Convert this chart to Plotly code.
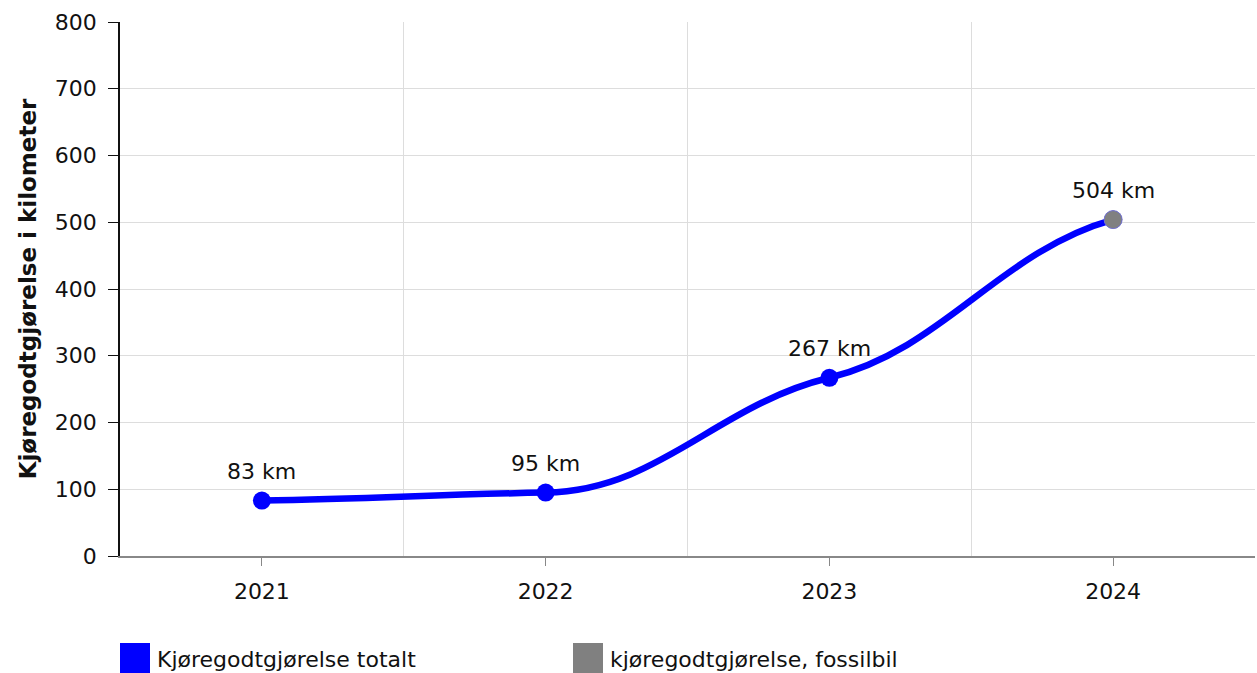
import plotly.graph_objects as go

years = ["2021", "2022", "2023", "2024"]
total_km = [83, 95, 267, 504]
fossil_years = ["2024"]
fossil_km = [504]
series_names = ["Kjøregodtgjørelse totalt", "kjøregodtgjørelse, fossilbil"]
y_ticks = [0, 100, 200, 300, 400, 500, 600, 700, 800]

xi = list(range(len(years)))
fx = [years.index(y) for y in fossil_years]

FONT = "DejaVu Sans, Verdana, sans-serif"
BLUE = "#0000ff"
GREY = "#808080"
TXT = "#111111"

W, H = 1257, 673
ML, MR, MT, MB = 120, 2, 22, 117
PW, PH = W - ML - MR, H - MT - MB


def px_to_paper_x(px):
    return (px - ML) / PW


def py_to_paper_y(py):
    return (H - MB - py) / PH


# smooth curve through the data points (cubic Bezier segments, flat-ish tangents)
def smooth_path(xs, ys, k=0.4):
    n = len(xs)
    sec = [(ys[i + 1] - ys[i]) / (xs[i + 1] - xs[i]) for i in range(n - 1)]
    tang = []
    for i in range(n):
        if i == 0:
            tang.append(0.5 * sec[0])
        elif i == n - 1:
            tang.append(0.5 * sec[-1])
        else:
            a, b = sec[i - 1], sec[i]
            if a * b <= 0:
                tang.append(0.0)
            else:
                s = 1 if a > 0 else -1
                tang.append(s * 0.5 * min(abs(a), abs(b)) + s * 0.1 * abs(a))
    d = f"M {xs[0]},{ys[0]}"
    for i in range(n - 1):
        h = xs[i + 1] - xs[i]
        c1x, c1y = xs[i] + k * h, ys[i] + k * h * tang[i]
        c2x, c2y = xs[i + 1] - k * h, ys[i + 1] - k * h * tang[i + 1]
        d += f" C {c1x},{c1y} {c2x},{c2y} {xs[i + 1]},{ys[i + 1]}"
    return d


fig = go.Figure()
line_shape = dict(type="path", xref="x", yref="y", path=smooth_path(xi, total_km),
                  line=dict(color=BLUE, width=6.5), fillcolor="rgba(0,0,0,0)")
try:
    fig.add_shape(**line_shape, layer="between")
except ValueError:
    fig.add_shape(**line_shape, layer="below")

fig.add_trace(go.Scatter(
    x=xi, y=total_km, mode="markers",
    marker=dict(color=BLUE, size=18),
    name=series_names[0], showlegend=False, cliponaxis=False,
))
fig.add_trace(go.Scatter(
    x=fx, y=fossil_km, mode="markers",
    marker=dict(color=GREY, size=18, line=dict(color="#7777cc", width=1)),
    name=series_names[1], showlegend=False, cliponaxis=False,
))
for x, v in zip(xi, total_km):
    fig.add_annotation(x=x, y=v, text=f"{v} km", showarrow=False, yshift=29,
                       xanchor="center", yanchor="middle",
                       font=dict(size=22, family=FONT, color=TXT))

# manual legend (squares + labels below the plot)
legend_items = [(series_names[0], BLUE, 120), (series_names[1], GREY, 573)]
for name, col, lx in legend_items:
    fig.add_shape(type="rect", xref="paper", yref="paper",
                  x0=px_to_paper_x(lx), x1=px_to_paper_x(lx + 30),
                  y0=py_to_paper_y(673), y1=py_to_paper_y(643),
                  line=dict(width=0), fillcolor=col, layer="above")
    fig.add_annotation(xref="paper", yref="paper",
                       x=px_to_paper_x(lx + 35), y=py_to_paper_y(659),
                       text=name, showarrow=False, xanchor="left", yanchor="middle",
                       font=dict(size=22, family=FONT, color=TXT))

fig.update_layout(
    width=W, height=H,
    margin=dict(l=ML, r=MR, t=MT, b=MB),
    paper_bgcolor="white", plot_bgcolor="white",
    font=dict(family=FONT, size=22, color=TXT),
    showlegend=False,
)
fig.update_xaxes(
    range=[-0.5, 3.5], tickvals=xi, ticktext=years,
    showgrid=False, zeroline=False,
    showline=True, linecolor="#888888", linewidth=1.5,
    ticks="outside", ticklen=8, tickcolor="#888888", tickwidth=1,
    ticklabelstandoff=7,
    tickfont=dict(size=22, family=FONT, color=TXT),
    minor=dict(tickvals=[0.5, 1.5, 2.5], showgrid=True, gridcolor="#dddddd", gridwidth=1, ticks=""),
)
fig.update_yaxes(
    range=[0, 800], tickvals=y_ticks,
    showgrid=True, gridcolor="#dddddd", gridwidth=1, zeroline=False,
    showline=True, linecolor=TXT, linewidth=1.5,
    ticks="outside", ticklen=10, tickcolor=TXT,
    ticklabelstandoff=7,
    tickfont=dict(size=22, family=FONT, color=TXT),
    title=dict(text="<b>Kjøregodtgjørelse i kilometer</b>",
               font=dict(size=23, family=FONT, color=TXT), standoff=12),
)

fig.write_html("out.html", config={"displayModeBar": False},
               post_script="document.body.style.margin='0px';")
